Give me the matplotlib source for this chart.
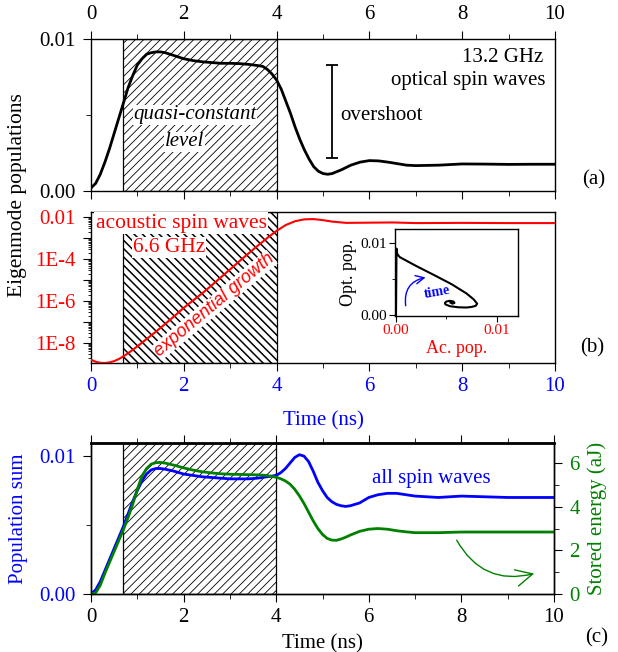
import matplotlib
matplotlib.use('Agg')
import matplotlib.pyplot as plt
import numpy as np
from matplotlib.ticker import MultipleLocator, FixedLocator, FuncFormatter, NullFormatter

plt.rcParams['font.family'] = ['Liberation Serif', 'DejaVu Serif']
plt.rcParams['font.size'] = 15
plt.rcParams['axes.linewidth'] = 1.0
plt.rcParams['xtick.major.size'] = 6
plt.rcParams['ytick.major.size'] = 6
plt.rcParams['xtick.minor.size'] = 3.5
plt.rcParams['ytick.minor.size'] = 3.5
plt.rcParams['xtick.major.pad'] = 4
plt.rcParams['ytick.major.pad'] = 5

# shaded "quasi-constant" interval (ns)
shade = (0.7, 4.0)

# (a) optical spin waves, 13.2 GHz
t_opt = [0, 0.1, 0.2, 0.3, 0.4, 0.5, 0.6, 0.7, 0.8, 0.9, 1.0, 1.1, 1.2, 1.3, 1.4, 1.5, 1.6,
         1.8, 2.0, 2.2, 2.4, 2.6, 2.8, 3.0, 3.2, 3.4, 3.6, 3.7, 3.8, 3.9, 4.0, 4.1, 4.2,
         4.3, 4.4, 4.5, 4.6, 4.7, 4.8, 4.9, 5.0, 5.1, 5.2, 5.4, 5.6, 5.8, 6.0, 6.2, 6.4,
         6.6, 6.8, 7.0, 7.5, 8.0, 8.5, 9.0, 9.5, 10.0]
opt_pop = [0.0002, 0.0005, 0.0011, 0.0019, 0.0028, 0.0038, 0.0048, 0.0058, 0.0068, 0.0076,
           0.0083, 0.0087, 0.0090, 0.0091, 0.00915, 0.00915, 0.0091, 0.0089, 0.0087,
           0.00858, 0.0085, 0.00845, 0.0084, 0.0084, 0.00838, 0.00833, 0.00825, 0.0082,
           0.0080, 0.0077, 0.0073, 0.0067, 0.0059, 0.0051, 0.0042, 0.0034, 0.0027, 0.0021,
           0.0016, 0.0013, 0.00115, 0.0011, 0.00115, 0.0014, 0.0017, 0.0019, 0.0020,
           0.00198, 0.0019, 0.0018, 0.0017, 0.00167, 0.0017, 0.00178, 0.00177, 0.00175,
           0.00176, 0.00176]
overshoot = [0.00214, 0.00826]

# (b) acoustic spin waves, 6.6 GHz (log10 of population)
t_ac = [0, 0.1, 0.2, 0.3, 0.4, 0.5, 0.6, 0.7, 0.8, 0.9, 1.0, 1.2, 1.4, 1.6, 1.8, 2.0, 2.2,
        2.4, 2.6, 2.8, 3.0, 3.2, 3.4, 3.6, 3.8, 4.0, 4.2, 4.4, 4.6, 4.8, 5.0, 5.2, 5.5,
        6.0, 6.5, 7.0, 8.0, 9.0, 10.0]
ac_log10 = [-8.8, -8.9, -8.95, -8.96, -8.93, -8.87, -8.77, -8.64, -8.49, -8.33, -8.16,
            -7.81, -7.46, -7.09, -6.71, -6.32, -5.97, -5.62, -5.25, -4.86, -4.48, -4.09,
            -3.71, -3.34, -2.98, -2.64, -2.36, -2.18, -2.09, -2.08, -2.13, -2.2, -2.26,
            -2.25, -2.24, -2.27, -2.26, -2.27, -2.27]

# inset: optical vs acoustic population
inset_ac = [0, 0.00005, 0.0001, 0.0002, 0.0004, 0.0020, 0.0037, 0.0055, 0.0070, 0.0077,
            0.00805, 0.0079, 0.0075, 0.0070, 0.0062, 0.00535, 0.0049, 0.00485, 0.0050,
            0.00535, 0.0057, 0.0058, 0.0056, 0.0054]
inset_opt = [0, 0.0092, 0.0086, 0.0083, 0.0080, 0.0068, 0.0056, 0.0043, 0.0030, 0.0022,
             0.0016, 0.0013, 0.00115, 0.00107, 0.0011, 0.00125, 0.0015, 0.0017, 0.0019,
             0.0020, 0.0019, 0.0017, 0.0016, 0.00175]

# (c) population sum and stored energy
t_sum = [0, 0.1, 0.2, 0.3, 0.4, 0.5, 0.6, 0.7, 0.8, 0.9, 1.0, 1.1, 1.2, 1.3, 1.4, 1.5, 1.6,
         1.8, 2.0, 2.2, 2.4, 2.6, 2.8, 3.0, 3.2, 3.4, 3.6, 3.8, 4.0, 4.1, 4.2, 4.3, 4.4,
         4.5, 4.6, 4.7, 4.8, 4.9, 5.0, 5.1, 5.2, 5.3, 5.4, 5.5, 5.6, 5.8, 6.0, 6.2, 6.4,
         6.6, 6.8, 7.0, 7.5, 8.0, 9.0, 10.0]
pop_sum = [0.0, 0.0003, 0.0009, 0.0017, 0.0025, 0.0033, 0.0041, 0.0049, 0.0058, 0.0067,
           0.0075, 0.0082, 0.0087, 0.0090, 0.0091, 0.0091, 0.00905, 0.0089, 0.0087,
           0.0086, 0.0085, 0.00845, 0.0084, 0.00835, 0.00835, 0.00835, 0.0084, 0.0085,
           0.0086, 0.0088, 0.0091, 0.0095, 0.0099, 0.0101, 0.0100, 0.0096, 0.0089,
           0.0081, 0.0075, 0.0070, 0.0067, 0.0065, 0.0064, 0.00635, 0.0064, 0.0066,
           0.0070, 0.0072, 0.0073, 0.0073, 0.0072, 0.0071, 0.0070, 0.0071, 0.0070, 0.0070]
energy = [0.0, 0.05, 0.4, 0.95, 1.45, 1.95, 2.45, 2.95, 3.5, 4.1, 4.8, 5.4, 5.75, 5.95,
          6.02, 6.03, 6.0, 5.9, 5.78, 5.68, 5.6, 5.55, 5.51, 5.49, 5.48, 5.47, 5.46, 5.43,
          5.35, 5.28, 5.18, 5.03, 4.8, 4.5, 4.15, 3.75, 3.35, 3.0, 2.73, 2.55, 2.47, 2.46,
          2.52, 2.6, 2.7, 2.87, 2.97, 3.0, 2.97, 2.9, 2.85, 2.81, 2.81, 2.84, 2.84, 2.84]

red = '#ff0000'
blue = '#0000ff'
green = '#008000'

fig = plt.figure(figsize=(6.18, 6.52), dpi=100)
W, H = 618.0, 652.0
ax_a = fig.add_axes([91 / W, 1 - 191 / H, 464 / W, 152 / H])
ax_b = fig.add_axes([91 / W, 1 - 363 / H, 464 / W, 151 / H])
ax_c = fig.add_axes([91 / W, 1 - 594 / H, 463 / W, 151 / H])
ax_in = fig.add_axes([395 / W, 1 - 316 / H, 123 / W, 87 / H])


def hatch_span(ax, hatch, hlw):
    plt.rcParams['hatch.linewidth'] = hlw
    p = ax.axvspan(shade[0], shade[1], facecolor='none', edgecolor='k', hatch=hatch, lw=0.9, zorder=1)
    if hasattr(p, 'set_hatch_linewidth'):
        p.set_hatch_linewidth(hlw)
    return p


# ---- (a)
hatch_span(ax_a, '////', 0.6)
ax_a.plot(t_opt, opt_pop, color='k', lw=2.0, zorder=4)
ax_a.errorbar([5.2], [np.mean(overshoot)], yerr=[[np.mean(overshoot) - overshoot[0]], [overshoot[1] - np.mean(overshoot)]],
              color='k', lw=1.3, capsize=4, capthick=1.3, zorder=4)
ax_a.text(5.37, 0.0050, 'overshoot', ha='left', va='center')
ax_a.text(9.75, 0.0088, '13.2 GHz', ha='right', va='center')
ax_a.text(9.8, 0.0073, 'optical spin waves', ha='right', va='center')
box = dict(facecolor='white', edgecolor='none', pad=0.5)
ax_a.text(2.24, 0.0050, 'quasi-constant', ha='center', va='center', style='italic', bbox=box, zorder=3)
ax_a.text(2.02, 0.00324, 'level', ha='center', va='center', style='italic', bbox=box, zorder=3)
ax_a.set_xlim(0, 10)
ax_a.set_ylim(0, 0.01)
ax_a.set_yticks([0, 0.01])
ax_a.set_yticklabels(['0.00', '0.01'])
ax_a.yaxis.set_minor_locator(MultipleLocator(0.005))
ax_a.xaxis.set_major_locator(MultipleLocator(2))
ax_a.xaxis.set_minor_locator(MultipleLocator(1))
ax_a.tick_params(axis='x', which='both', top=True, bottom=True, labeltop=True, labelbottom=False)
ax_a.tick_params(axis='x', which='major', pad=5)
ax_a.tick_params(axis='y', which='both', right=False)
fig.text(0.96, 1 - 180 / H, '(a)', ha='center', va='center')

# ---- (b)
hatch_span(ax_b, '\\\\\\\\', 1.1)
ax_b.plot(t_ac, 10 ** np.array(ac_log10), color=red, lw=1.5, zorder=4)
ax_b.set_yscale('log')
ax_b.set_xlim(0, 10)
ax_b.set_ylim(10 ** -8.96, 10 ** -1.74)
ax_b.yaxis.set_major_locator(FixedLocator([10.0 ** k for k in range(-8, -1)]))
ylab = {-2: '0.01', -4: '1E-4', -6: '1E-6', -8: '1E-8'}
ax_b.yaxis.set_major_formatter(FuncFormatter(lambda v, p: ylab.get(int(round(np.log10(v))), '')))
ax_b.yaxis.set_minor_locator(FixedLocator([m * 10.0 ** k for k in range(-9, -1) for m in range(2, 10)]))
ax_b.yaxis.set_minor_formatter(NullFormatter())
ax_b.xaxis.set_major_locator(MultipleLocator(2))
ax_b.xaxis.set_minor_locator(MultipleLocator(1))
ax_b.tick_params(axis='y', which='both', labelcolor=red, right=False)
ax_b.tick_params(axis='y', which='minor', length=2.5)
ax_b.tick_params(axis='x', which='both', labelcolor=blue, top=False)
ax_b.set_xlabel('Time (ns)', color=blue, labelpad=11)
box_b = dict(facecolor='white', edgecolor='none', pad=1.0)
ax_b.text(1.94, 10 ** -2.27, 'acoustic spin waves', color=red, ha='center', va='center',
          fontsize=15.5, bbox=box_b, zorder=3)
ax_b.text(1.68, 10 ** -3.44, '6.6 GHz', color=red, ha='center', va='center',
          fontsize=15.5, bbox=box_b, zorder=3)
ax_b.text(2.65, 10 ** -6.2, 'exponential growth', color=red, ha='center', va='center', rotation=40,
          family=['Liberation Sans', 'DejaVu Sans'], style='italic', fontsize=13,
          bbox=dict(facecolor='white', edgecolor='none', pad=0.3), zorder=3)
fig.text(0.958, 1 - 348 / H, '(b)', ha='center', va='center')

fig.text(18 / W, 1 - 195 / H, 'Eigenmode populations', rotation=90, ha='center', va='center',
         fontsize=15.5)

# inset
ax_in.plot(inset_ac, inset_opt, color='k', lw=1.5)
ax_in.set_xlim(-0.0001, 0.0121)
ax_in.set_ylim(-0.0001, 0.0119)
ax_in.set_xticks([0, 0.01])
ax_in.set_xticklabels(['0.00', '0.01'])
ax_in.set_yticks([0, 0.01])
ax_in.set_yticklabels(['0.00', '0.01'])
ax_in.xaxis.set_minor_locator(MultipleLocator(0.005))
ax_in.yaxis.set_minor_locator(MultipleLocator(0.005))
ax_in.tick_params(which='both', labelsize=11, pad=2)
ax_in.tick_params(which='major', length=4)
ax_in.tick_params(which='minor', length=2.5)
ax_in.tick_params(axis='x', labelcolor=red)
ax_in.set_xlabel('Ac. pop.', color=red, fontsize=13, labelpad=2)
ax_in.set_ylabel('Opt. pop.', fontsize=13, labelpad=2)
ax_in.annotate('', xy=(0.0032, 0.0053), xytext=(0.0010, 0.00093),
               arrowprops=dict(arrowstyle='->', color=blue, lw=1.0, connectionstyle='arc3,rad=-0.5'))
ax_in.text(0.0027, 0.00315, 'time', color=blue, fontsize=10, fontweight='bold', rotation=10,
           ha='left', va='center')

# ---- (c)
hatch_span(ax_c, '////', 0.6)
ax_e = ax_c.twinx()
ax_c.plot(t_sum, pop_sum, color=blue, lw=2.0, zorder=4)
ax_e.plot(t_sum, energy, color=green, lw=2.0)
ax_c.set_zorder(ax_e.get_zorder() - 1)
ax_c.patch.set_visible(True)
ax_e.patch.set_visible(False)
ax_c.set_xlim(0, 10)
ax_c.set_ylim(0, 0.01095)
ax_e.set_ylim(0, 6.92)
ax_c.set_yticks([0, 0.01])
ax_c.set_yticklabels(['0.00', '0.01'])
ax_c.yaxis.set_minor_locator(MultipleLocator(0.005))
ax_e.yaxis.set_major_locator(MultipleLocator(2))
ax_e.yaxis.set_minor_locator(MultipleLocator(1))
ax_c.xaxis.set_major_locator(MultipleLocator(2))
ax_c.xaxis.set_minor_locator(MultipleLocator(1))
ax_c.tick_params(axis='x', which='both', top=True)
ax_c.tick_params(axis='y', which='both', labelcolor=blue)
ax_e.tick_params(axis='y', which='both', labelcolor=green)
ax_e.spines['top'].set_linewidth(2.0)
ax_c.set_xlabel('Time (ns)', labelpad=5)
ax_c.set_ylabel('Population sum', color=blue)
ax_c.yaxis.set_label_coords(-0.136, 0.5)
ax_e.set_ylabel('Stored energy (aJ)', color=green)
ax_e.yaxis.set_label_coords(1.071, 0.5)
ax_c.text(7.34, 0.0084, 'all spin waves', color=blue, ha='center', va='center')
ax_e.annotate('', xy=(9.63, 0.97), xytext=(7.87, 2.58),
              arrowprops=dict(arrowstyle='->,head_length=0.8,head_width=0.4', color=green, lw=1.0,
                              connectionstyle='arc3,rad=0.4'))
fig.text(0.965, 1 - 638 / H, '(c)', ha='center', va='center')

fig.savefig('out.png', dpi=100)
